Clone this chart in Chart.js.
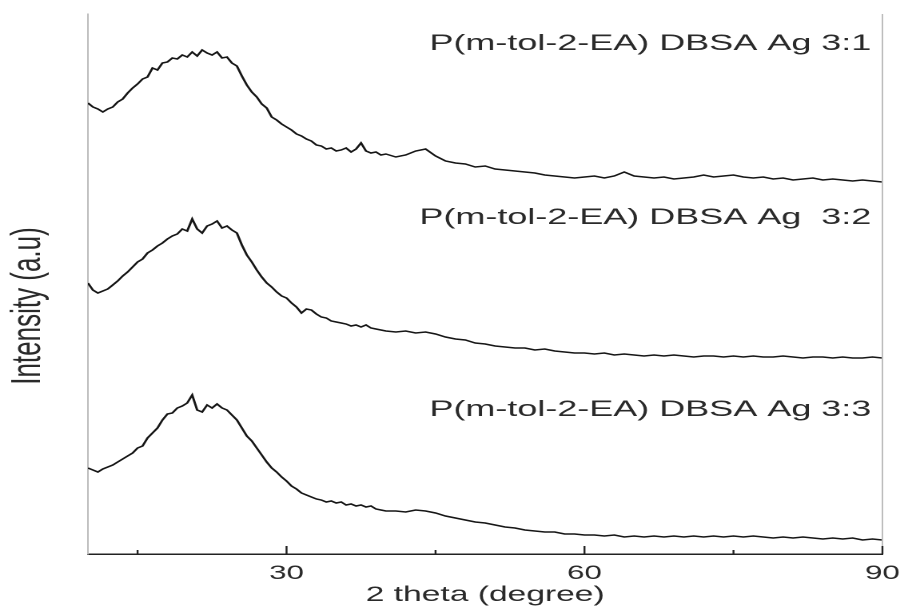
<!DOCTYPE html>
<html>
<head>
<meta charset="utf-8">
<script src="https://cdn.jsdelivr.net/npm/chart.js@4/dist/chart.umd.min.js"></script>
<style>
  html, body { margin: 0; padding: 0; background: #fff; overflow: hidden; }
  /* the figure is drawn narrow and widened to 900px */
  #wrap { width: 563px; height: 608px; transform: scale(1.5986, 1); transform-origin: 0 0; }
</style>
</head>
<body>
<div id="wrap"><canvas id="xrd"></canvas></div>
<script>
// scan angles (2 theta, degree)
const twoTheta = [
  10, 10.5, 11, 11.5, 12, 12.5, 13, 13.5, 14, 14.5, 15, 15.5, 16, 16.5, 17, 17.5, 18, 18.5, 19, 19.5,
  20, 20.5, 21, 21.5, 22, 22.5, 23, 23.5, 24, 24.5, 25, 25.5, 26, 26.5, 27, 27.5, 28, 28.5, 29, 29.5,
  30, 30.5, 31, 31.5, 32, 32.5, 33, 33.5, 34, 34.5, 35, 35.5, 36, 36.5, 37, 37.5, 38, 38.5, 39, 39.5,
  40, 41, 42, 43, 44, 45, 46, 47, 48, 49, 50, 51, 52, 53, 54, 55, 56, 57, 58, 59,
  60, 61, 62, 63, 64, 65, 66, 67, 68, 69, 70, 71, 72, 73, 74, 75, 76, 77, 78, 79,
  80, 81, 82, 83, 84, 85, 86, 87, 88, 89, 90
];

// intensities, already stacked with offsets (a.u.)
const ag31 = [
  451, 447, 445, 442, 445, 447, 452, 455, 461, 466, 470, 475, 477, 486, 484, 491, 492, 496, 495, 499,
  497, 502, 498, 504, 501, 499, 502, 496, 497, 491, 488, 478, 469, 462, 457, 450, 446, 437, 434, 430,
  427, 424, 420, 418, 415, 413, 409, 408, 405, 406, 403, 404, 406, 402, 405, 411, 403, 401, 402, 399,
  400, 397, 399, 403, 405, 398, 393, 391, 390, 387, 388, 385, 384, 383, 382, 381, 379, 378, 377, 376,
  377, 378, 376, 378, 382, 378, 377, 376, 377, 375, 376, 377, 379, 377, 378, 379, 377, 376, 377, 375,
  376, 374, 375, 376, 374, 375, 374, 373, 374, 373, 372
];
const ag32 = [
  271, 264, 261, 263, 265, 269, 273, 278, 282, 287, 292, 295, 301, 304, 308, 311, 315, 318, 320, 325,
  323, 335, 325, 321, 328, 330, 333, 326, 328, 324, 321, 309, 299, 292, 284, 277, 271, 267, 262, 258,
  256, 251, 247, 241, 245, 244, 240, 237, 236, 233, 232, 231, 230, 228, 229, 227, 229, 226, 225, 224,
  223, 222, 223, 221, 222, 220, 217, 215, 214, 211, 210, 208, 207, 206, 206, 204, 205, 203, 202, 201,
  201, 200, 201, 199, 200, 199, 198, 199, 198, 199, 198, 197, 198, 198, 197, 198, 197, 198, 197, 197,
  198, 197, 196, 197, 197, 196, 197, 196, 196, 197, 196
];
const ag33 = [
  86, 84, 82, 85, 87, 89, 92, 95, 98, 101, 106, 108, 116, 121, 126, 134, 140, 141, 146, 148,
  151, 159, 144, 142, 149, 146, 150, 146, 144, 139, 134, 126, 118, 113, 106, 99, 92, 86, 82, 77,
  73, 68, 65, 61, 59, 57, 55, 54, 52, 53, 51, 52, 49, 50, 48, 49, 47, 48, 45, 44,
  43, 43, 42, 44, 43, 41, 38, 36, 34, 32, 31, 29, 27, 26, 24, 23, 22, 22, 20, 20,
  19, 19, 18, 19, 17, 18, 17, 18, 17, 18, 17, 18, 17, 18, 17, 18, 17, 18, 17, 16,
  17, 16, 17, 16, 15, 16, 15, 16, 14, 15, 14
];

const seriesNames = ['P(m-tol-2-EA) DBSA Ag 3:1', 'P(m-tol-2-EA) DBSA Ag  3:2', 'P(m-tol-2-EA) DBSA Ag 3:3'];
const seriesValues = [ag31, ag32, ag33];
const labelLevels = [510, 336, 144];   // where each sample name sits, on the intensity scale
const tickValues = [15, 30, 45, 60, 75, 90];
const labelledTicks = [30, 60, 90];

const textFont = '"Liberation Sans", Arial, Helvetica, sans-serif';

// inward tick marks, right frame line, axis titles and sample names
const decorations = {
  id: 'decorations',
  afterDraw(chart) {
    const { ctx, chartArea, scales } = chart;
    const x = scales.x, y = scales.y;
    ctx.save();
    ctx.strokeStyle = '#bdbdbd';
    ctx.lineWidth = 1;
    ctx.beginPath();
    ctx.moveTo(chartArea.right, chartArea.top);
    ctx.lineTo(chartArea.right, chartArea.bottom);
    ctx.stroke();

    ctx.strokeStyle = '#222';
    ctx.lineWidth = 1.2;
    tickValues.forEach(v => {
      const px = x.getPixelForValue(v);
      const len = labelledTicks.includes(v) ? 8 : 4;
      ctx.beginPath();
      ctx.moveTo(px, chartArea.bottom);
      ctx.lineTo(px, chartArea.bottom - len);
      ctx.stroke();
    });

    ctx.fillStyle = '#2a2a2a';
    ctx.font = '22.5px ' + textFont;
    ctx.textAlign = 'right';
    ctx.textBaseline = 'middle';
    seriesNames.forEach((name, i) => {
      ctx.fillText(name, chartArea.right - 7, y.getPixelForValue(labelLevels[i]));
    });

    ctx.textAlign = 'center';
    ctx.font = '21px ' + textFont;
    ctx.fillText('2 theta (degree)', (chartArea.left + chartArea.right) / 2, 595);

    ctx.translate(18, 306);
    ctx.rotate(-Math.PI / 2);
    ctx.font = '26px ' + textFont;
    ctx.fillText('Intensity (a.u)', 0, 0);
    ctx.restore();
  }
};

new Chart(document.getElementById('xrd'), {
  type: 'line',
  data: {
    datasets: seriesValues.map((vals, i) => ({
      label: seriesNames[i],
      data: twoTheta.map((t, j) => ({ x: t, y: vals[j] })),
      borderColor: '#161616',
      borderWidth: 1.5,
      pointRadius: 0,
      tension: 0,
      fill: false
    }))
  },
  options: {
    responsive: true,
    maintainAspectRatio: false,
    animation: false,
    devicePixelRatio: 2,
    layout: { padding: { left: 0, right: 11, top: 14, bottom: 0 } },
    plugins: { legend: { display: false }, tooltip: { enabled: false } },
    scales: {
      x: {
        type: 'linear',
        min: 10,
        max: 90,
        afterBuildTicks: scale => { scale.ticks = tickValues.map(v => ({ value: v })); },
        afterFit: scale => { scale.height = 54; scale.paddingRight = 0; scale.paddingLeft = 0; },
        grid: { display: false, drawTicks: false },
        border: { display: true, color: '#222', width: 1.5 },
        ticks: {
          padding: 8,
          maxRotation: 0,
          autoSkip: false,
          color: '#2a2a2a',
          font: { family: textFont, size: 19.5 },
          callback: v => labelledTicks.includes(v) ? String(v) : ''
        }
      },
      y: {
        min: 0,
        max: 540,
        afterFit: scale => { scale.width = 55; },
        grid: { display: false, drawTicks: false },
        border: { display: true, color: '#bdbdbd', width: 1 },
        ticks: { display: false }
      }
    }
  },
  plugins: [decorations]
});
</script>
</body>
</html>
